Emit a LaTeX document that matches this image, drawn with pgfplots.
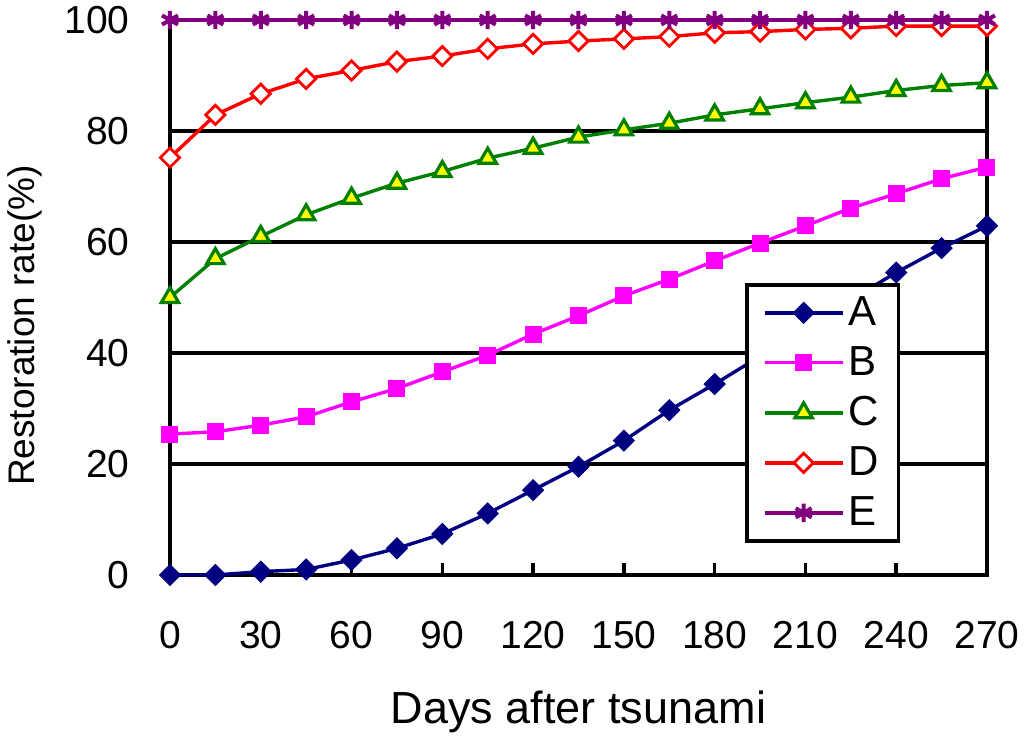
\documentclass[border=0pt]{standalone}
\usepackage{fontspec}
\setmainfont{Liberation Sans}
\usepackage{pgfplots}
\pgfplotsset{compat=1.18}
\usepackage{pgfplotstable}

\definecolor{cA}{HTML}{000080}
\definecolor{cB}{HTML}{FF00FF}
\definecolor{cC}{HTML}{008000}
\definecolor{cCfill}{HTML}{FFFF00}
\definecolor{cD}{HTML}{FF0000}
\definecolor{cE}{HTML}{800080}

\pgfplotstableread{
day  A     B     C     D     E
0    0.0   25.4  50.0  75.2  100
15   0.0   25.8  57.0  82.9  100
30   0.6   27.0  61.0  86.7  100
45   1.0   28.5  64.9  89.4  100
60   2.7   31.2  67.9  90.9  100
75   4.8   33.6  70.6  92.5  100
90   7.4   36.6  72.7  93.5  100
105  11.1  39.6  75.1  94.8  100
120  15.3  43.4  76.9  95.7  100
135  19.5  46.7  78.9  96.2  100
150  24.2  50.3  80.2  96.6  100
165  29.7  53.3  81.4  97.0  100
180  34.4  56.6  82.9  97.7  100
195  39.4  59.8  84.0  97.9  100
210  44.6  62.9  85.1  98.3  100
225  49.6  66.1  86.1  98.5  100
240  54.5  68.7  87.3  98.9  100
255  58.9  71.4  88.2  98.9  100
270  62.9  73.5  88.7  98.9  100
}\restab

\begin{document}
\begin{tikzpicture}
\useasboundingbox (-85pt,-82pt) rectangle (427pt,287.5pt);
\begin{axis}[
  at={(0,0)}, anchor=south west,
  scale only axis,
  width=408.5pt, height=277.5pt,
  xmin=0, xmax=270, ymin=0, ymax=100,
  clip=false,
  xtick={0,30,...,270},
  ytick={0,20,...,100},
  xtick pos=bottom,
  tick align=inside,
  major tick length=6pt,
  xtick style={black, line width=1.8pt},
  ytick style={draw=none},
  axis line style={black, line width=1.8pt},
  ymajorgrids,
  major grid style={black, line width=1.8pt},
  /pgf/number format/assume math mode=true,
  tick label style={font=\fontsize{19.5pt}{22pt}\selectfont, inner sep=0pt},
  xticklabel style={anchor=center, yshift=-30pt},
  yticklabel style={anchor=east, xshift=-20pt},
  xlabel={Days after tsunami},
  ylabel={Restoration rate(\%)},
  xlabel style={font=\fontsize{22.5pt}{26pt}\selectfont,
    at={(axis description cs:0.5,0)}, anchor=center, yshift=-68.5pt},
  ylabel style={font=\fontsize{18.5pt}{22pt}\selectfont,
    at={(axis description cs:0,0.5)}, anchor=center, rotate=0, xshift=-14pt, yshift=72.5pt},
  legend style={at={(0.704,0.526)}, anchor=north west, draw=black, line width=1.8pt,
    fill=white, font=\fontsize{21pt}{24pt}\selectfont, row sep=5pt,
    inner xsep=8pt, inner ysep=4pt},
  legend cell align=left,
  legend image code/.code={
    \draw[mark repeat=2,mark phase=2] plot coordinates {(0pt,0pt) (19.5pt,0pt) (39pt,0pt)};
  },
  every axis plot/.append style={line width=1.7pt},
]
\addplot[cA, mark=square*, mark size=3.7pt, mark options={rotate=45, line width=0.5pt, fill=cA}]
  table[x=day, y=A] {\restab};
\addlegendentry{A}
\addplot[cB, mark=square*, mark size=4.0pt, mark options={line width=0.5pt, fill=cB}]
  table[x=day, y=B] {\restab};
\addlegendentry{B}
\addplot[cC, mark=triangle*, mark size=5pt, mark options={line width=1.6pt, fill=cCfill}]
  table[x=day, y=C] {\restab};
\addlegendentry{C}
\addplot[cD, mark=square*, mark size=3.4pt, mark options={rotate=45, line width=1.4pt, fill=white}]
  table[x=day, y=D] {\restab};
\addlegendentry{D}
\addplot[cE, mark=asterisk, mark size=4.6pt, mark options={line width=2pt}]
  table[x=day, y=E] {\restab};
\addlegendentry{E}
\end{axis}
\end{tikzpicture}
\end{document}
